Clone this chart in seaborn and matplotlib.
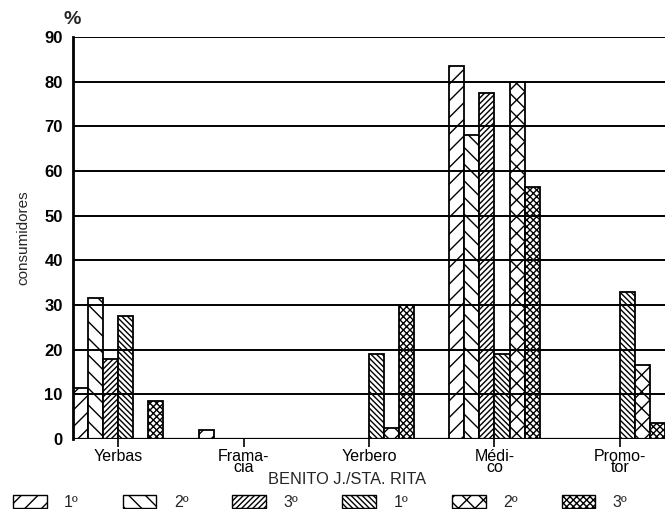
import numpy as np
import pandas as pd
import matplotlib
matplotlib.use('Agg')
import matplotlib.pyplot as plt
import seaborn as sns
from matplotlib.patches import Patch

# datos (% de consumidores)
categorias = ['Yerbas', 'Frama-\ncia', 'Yerbero', 'Médi-\nco', 'Promo-\ntor']
series = ['B 1º', 'B 2º', 'B 3º', 'S 1º', 'S 2º', 'S 3º']
etiquetas = ['1º', '2º', '3º', '1º', '2º', '3º']
benito_1 = [11.5, 2, 0, 83.5, 0]
benito_2 = [31.5, 0, 0, 68, 0]
benito_3 = [18, 0, 0, 77.5, 0]
rita_1 = [27.5, 0, 19, 19, 33]
rita_2 = [0, 0, 2.5, 80, 16.5]
rita_3 = [8.5, 0, 30, 56.5, 3.5]
tramas = ['//', '\\\\', '//////', '\\\\\\\\\\\\', 'xx', 'xxxxx']

valores = [benito_1, benito_2, benito_3, rita_1, rita_2, rita_3]
filas = []
for s, vals in zip(series, valores):
    for c, v in zip(categorias, vals):
        filas.append({'categoria': c, 'serie': s, 'pct': v})
df = pd.DataFrame(filas)

sns.set_style('white')
plt.rcParams['font.family'] = ['Liberation Sans', 'DejaVu Sans']
plt.rcParams['hatch.linewidth'] = 1.0
plt.rcParams['hatch.color'] = 'black'

fig = plt.figure(figsize=(6.65, 5.09), dpi=100)
ax = fig.add_axes([0.11, 1 - 439 / 509, 0.89, (439 - 37) / 509])

sns.barplot(data=df, x='categoria', y='pct', hue='serie', order=categorias,
            hue_order=series, width=0.72, errorbar=None, ax=ax,
            palette=['white'] * 6, edgecolor='black', linewidth=1.3,
            legend=False)

for cont, h in zip(ax.containers, tramas):
    for barra in cont:
        barra.set_hatch(h)

ax.set_xlim(-0.36, 4.36)
ax.set_ylim(0, 90)
ax.set_yticks(range(0, 91, 10))
ax.yaxis.grid(True, color='black', linewidth=1.4)
ax.set_axisbelow(False)
for lado in ['top', 'right', 'bottom']:
    ax.spines[lado].set_visible(False)
ax.spines['left'].set_color('black')
ax.spines['left'].set_linewidth(2)
ax.axhline(0, color='black', linewidth=1.6, zorder=3)
ax.tick_params(axis='y', direction='inout', length=9, width=1.2, colors='black',
               labelsize=12, pad=3)
ax.tick_params(axis='x', direction='out', length=6, width=1.2, colors='black',
               labelsize=11.5, pad=1.0, bottom=True)
for t in ax.get_yticklabels():
    t.set_fontweight('bold')
for t in ax.get_xticklabels():
    t.set_linespacing(0.7)
ax.set_xlabel('')
ax.set_ylabel('consumidores', fontsize=11)
ax.yaxis.set_label_coords(-0.072, 0.5)

fig.text(0.108, 0.962, '%', fontsize=14, fontweight='bold', ha='center', va='center')
fig.text(0.522, 1 - 480 / 509, 'BENITO J./STA. RITA', fontsize=11.8, ha='center', va='center')

manijas = [Patch(facecolor='white', edgecolor='black', hatch=h, linewidth=1.0) for h in tramas]
fig.legend(manijas, etiquetas, ncol=6, loc='lower left', bbox_to_anchor=(-0.002, -0.03),
           frameon=False, fontsize=11.5, handlelength=2.1, handleheight=0.85,
           handletextpad=1.1, columnspacing=2.75)

fig.savefig('out.png', dpi=100)
